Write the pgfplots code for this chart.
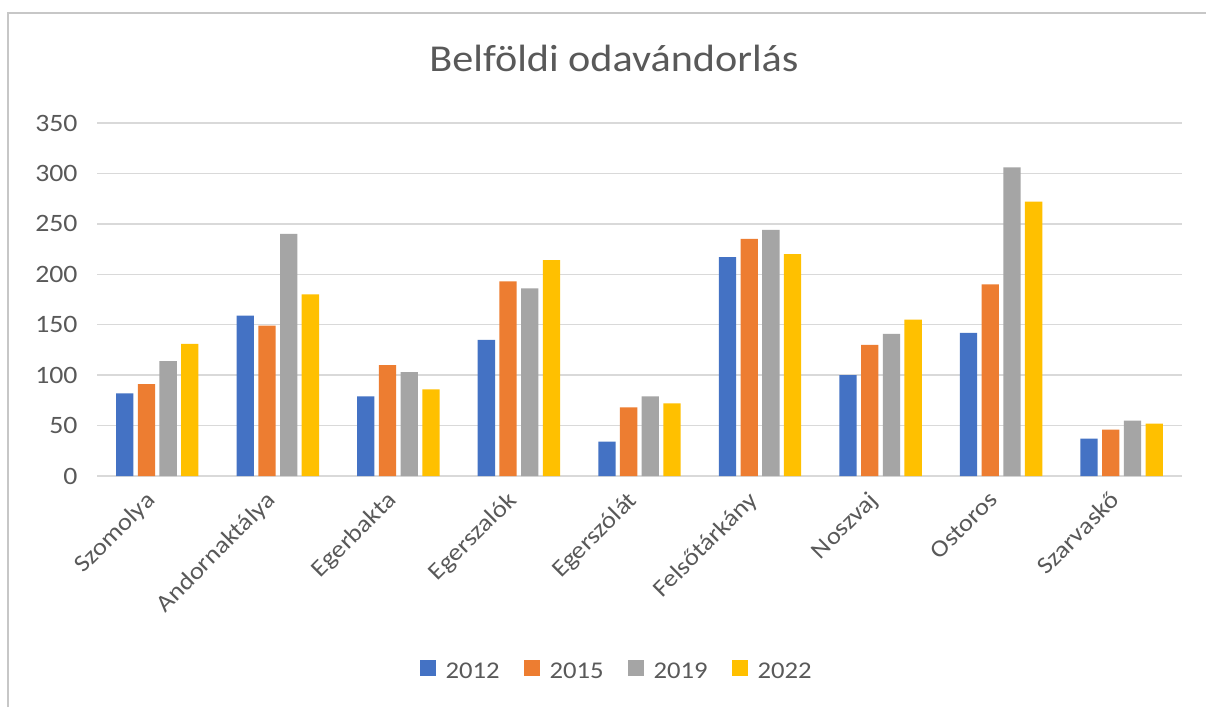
\documentclass[border=0pt]{standalone}
\usepackage{pgfplots}
\pgfplotsset{compat=1.18}
\usepackage{pgfplotstable}
\usepackage{fontspec}
\setmainfont{Carlito}[FakeStretch=1.11]
\definecolor{cBlue}{HTML}{4472C4}
\definecolor{cOrange}{HTML}{ED7D31}
\definecolor{cGray}{HTML}{A5A5A5}
\definecolor{cYellow}{HTML}{FFC000}
\definecolor{txt}{HTML}{595959}
\definecolor{gridc}{HTML}{D9D9D9}
\pgfplotstableread{
x y2012 y2015 y2019 y2022
0 82 91 114 131
1 159 149 240 180
2 79 110 103 86
3 135 193 186 214
4 34 68 79 72
5 217 235 244 220
6 100 130 141 155
7 142 190 306 272
8 37 46 55 52
}\datatable
\begin{document}
\begin{tikzpicture}
\useasboundingbox (0,0) rectangle (1206pt,707pt);
\fill[white] (0,0) rectangle (1206pt,707pt);
\draw[color=black!22, line width=2pt] (8pt,0pt) -- (8pt,694pt) -- (1206pt,694pt);
\begin{axis}[
  at={(97pt,231pt)}, anchor=south west,
  scale only axis, width=1085pt, height=353pt,
  ymin=0, ymax=350, ytick={0,50,...,350},
  xmin=-0.5, xmax=8.5,
  xtick=data,
  xticklabels={Szomolya,Andornaktálya,Egerbakta,Egerszalók,Egerszólát,Felsőtárkány,Noszvaj,Ostoros,Szarvaskő},
  ybar=4.4pt, bar width=17.3pt,
  axis lines*=left,
  x axis line style={gridc, line width=1.5pt},
  y axis line style={draw=none},
  ymajorgrids=true, xmajorgrids=false,
  grid style={gridc, line width=1.5pt},
  major tick length=0pt,
  tick style={draw=none},
  tick label style={font=\fontsize{25}{30}\selectfont, text=txt},
  /pgf/number format/assume math mode=true,
  yticklabel style={xshift=-16pt},
  xticklabel style={font=\fontsize{24}{29}\selectfont, xshift=-13pt, yshift=-9pt, rotate=45, anchor=north east},
  title={Belföldi odavándorlás},
  title style={at={(0.4765,1.130)}, anchor=base, font=\fontsize{38}{45}\selectfont, text=txt},
  legend style={at={(0.479,-0.552)}, anchor=center, draw=none, fill=none,
    font=\fontsize{24}{29}\selectfont, text=txt,
    /tikz/every even column/.append style={column sep=22pt},
    /tikz/every odd column/.append style={column sep=8pt}},
  legend columns=-1,
  legend image code/.code={\path[#1, draw=none] (0pt,-5pt) rectangle (16pt,11pt);},
]
\addplot[fill=cBlue, draw=none] table[x=x, y=y2012] {\datatable};
\addplot[fill=cOrange, draw=none] table[x=x, y=y2015] {\datatable};
\addplot[fill=cGray, draw=none] table[x=x, y=y2019] {\datatable};
\addplot[fill=cYellow, draw=none] table[x=x, y=y2022] {\datatable};
\legend{2012,2015,2019,2022}
\end{axis}
\end{tikzpicture}
\end{document}
